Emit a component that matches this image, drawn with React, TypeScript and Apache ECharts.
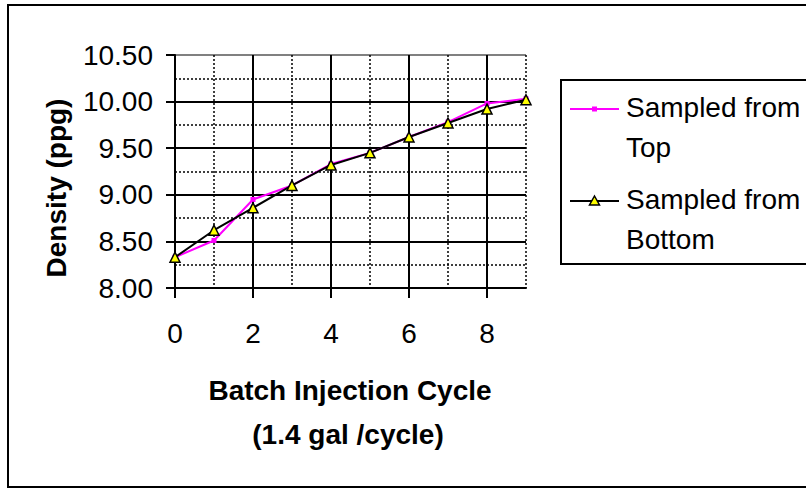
import React, { useEffect, useRef } from "react";
import * as echarts from "echarts";

const cycles = [0, 1, 2, 3, 4, 5, 6, 7, 8, 9];
const topValues = [8.33, 8.51, 8.95, 9.1, 9.33, 9.45, 9.62, 9.78, 9.98, 10.03];
const bottomValues = [8.33, 8.62, 8.86, 9.1, 9.32, 9.45, 9.62, 9.77, 9.92, 10.02];
const xTickValues = [0, 2, 4, 6, 8];
const seriesNames = ["Sampled from Top", "Sampled from Bottom"];
const legendLines = [["Sampled from", "Top"], ["Sampled from", "Bottom"]];
const yTitle = "Density (ppg)";
const xTitleLines = ["Batch Injection Cycle", "(1.4 gal /cycle)"];

const FONT = "'Liberation Sans', Arial, sans-serif";

export default function App() {
  const ref = useRef<HTMLDivElement>(null);
  useEffect(() => {
    if (!ref.current) return;
    const chart = echarts.init(ref.current, undefined, { renderer: "svg" });
    const topData = cycles.map((c, i) => [c, topValues[i]]);
    const bottomData = cycles.map((c, i) => [c, bottomValues[i]]);
    const legendItem = (idx: number, y: number, color: string, marker: any) => [
      { type: "line", shape: { x1: 570, y1: y, x2: 619, y2: y }, style: { stroke: color, lineWidth: 2 }, z: 10 },
      marker,
      { type: "text", x: 626, y: y - 1.5, style: { text: legendLines[idx][0], font: `28px ${FONT}`, fill: "#000", align: "left", verticalAlign: "middle" }, z: 10 },
      { type: "text", x: 626, y: y + 38, style: { text: legendLines[idx][1], font: `28px ${FONT}`, fill: "#000", align: "left", verticalAlign: "middle" }, z: 10 },
    ];
    chart.setOption({
      animation: false,
      backgroundColor: "#fff",
      grid: { left: 175, right: 280, top: 55, bottom: 201, containLabel: false },
      xAxis: [
        {
          type: "value", min: 0, max: 9, interval: 1, position: "bottom",
          axisLine: { show: false }, axisTick: { show: false }, axisLabel: { show: false },
          splitLine: { show: true, lineStyle: { color: "#000", width: 1.5, type: [2, 2] } },
        },
        {
          type: "value", min: 0, max: 9, interval: 2, position: "bottom",
          axisLine: { show: true, onZero: false, lineStyle: { color: "#000", width: 2 } },
          axisTick: { show: true, customValues: xTickValues, length: 10, lineStyle: { color: "#000", width: 2 } },
          axisLabel: { customValues: xTickValues, margin: 45, verticalAlign: "middle", fontSize: 28, fontFamily: FONT, color: "#000" },
          splitLine: { show: true, lineStyle: { color: ["#000", "#000", "#000", "#000", "#000", "rgba(0,0,0,0)"], width: 2 } },
        },
      ],
      yAxis: {
        type: "value", min: 8, max: 10.5, interval: 0.5,
        axisLine: { show: true, onZero: false, lineStyle: { color: "#000", width: 2 } },
        axisTick: { show: true, length: 9, lineStyle: { color: "#000", width: 2 } },
        axisLabel: { margin: 22, fontSize: 28, fontFamily: FONT, color: "#000", formatter: (v: number) => v.toFixed(2) },
        splitLine: { show: true, lineStyle: { color: ["#000", "#000", "#000", "#000", "#000", "#808080"], width: 2 } },
        minorTick: { show: false, splitNumber: 2 },
        minorSplitLine: { show: true, lineStyle: { color: "#000", width: 1.5, type: [2, 2] } },
      },
      series: [
        {
          name: seriesNames[0], type: "line", xAxisIndex: 1, data: topData,
          symbol: "rect", symbolSize: 5,
          lineStyle: { color: "#FF00FF", width: 2 },
          itemStyle: { color: "#FF00FF" },
          z: 2,
        },
        {
          name: seriesNames[1], type: "line", xAxisIndex: 1, data: bottomData,
          symbol: "triangle", symbolSize: 10,
          lineStyle: { color: "#000", width: 2 },
          itemStyle: { color: "#FFFF00", borderColor: "#000", borderWidth: 1.5 },
          z: 3,
        },
      ],
      graphic: [
        { type: "rect", shape: { x: 8, y: 5, width: 820, height: 482 }, style: { fill: "none", stroke: "#000", lineWidth: 2 }, z: 0, silent: true },
        { type: "rect", shape: { x: 561, y: 80, width: 260, height: 184 }, style: { fill: "#fff", stroke: "#000", lineWidth: 2 }, z: 5 },
        ...legendItem(0, 109, "#FF00FF", { type: "rect", shape: { x: 592, y: 106.5, width: 5, height: 5 }, style: { fill: "#FF00FF" }, z: 11 }),
        ...legendItem(1, 201, "#000", { type: "polygon", shape: { points: [[594.5, 196], [599.5, 205], [589.5, 205]] }, style: { fill: "#FFFF00", stroke: "#000", lineWidth: 1.5 }, z: 11 }),
        { type: "text", x: 56, y: 188, rotation: Math.PI / 2, style: { text: yTitle, font: `bold 28px ${FONT}`, fill: "#000", align: "center", verticalAlign: "middle" } },
        { type: "text", x: 350, y: 390, style: { text: xTitleLines[0], font: `bold 28px ${FONT}`, fill: "#000", align: "center", verticalAlign: "middle" } },
        { type: "text", x: 348, y: 434, style: { text: xTitleLines[1], font: `bold 28px ${FONT}`, fill: "#000", align: "center", verticalAlign: "middle" } },
      ],
    });
    return () => chart.dispose();
  }, []);
  return (
    <div
      ref={ref}
      style={{ position: "fixed", left: 0, top: 0, width: 806, height: 489, background: "#fff" }}
    />
  );
}
